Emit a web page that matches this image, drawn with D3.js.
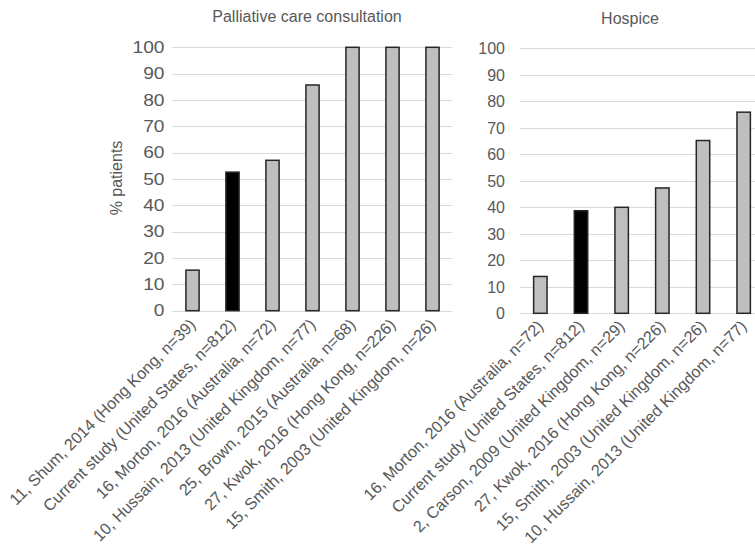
<!DOCTYPE html>
<html>
<head>
<meta charset="utf-8">
<script src="https://cdn.jsdelivr.net/npm/d3@7"></script>
<style>
  html, body { margin: 0; padding: 0; background: #fff; }
  svg { display: block; font-family: "Liberation Sans", Arial, sans-serif; }
</style>
</head>
<body>
<svg id="chart" width="755" height="554"></svg>
<script>
// ---- Data ----
const pcCategories = [
  "11, Shum, 2014 (Hong Kong, n=39)",
  "Current study (United States, n=812)",
  "16, Morton, 2016 (Australia, n=72)",
  "10, Hussain, 2013 (United Kingdom, n=77)",
  "25, Brown, 2015 (Australia, n=68)",
  "27, Kwok, 2016 (Hong Kong, n=226)",
  "15, Smith, 2003 (United Kingdom, n=26)"
];
const pcValues = [15.4, 52.6, 57.1, 85.7, 100, 100, 100];

const hospCategories = [
  "16, Morton, 2016 (Australia, n=72)",
  "Current study (United States, n=812)",
  "2, Carson, 2009 (United Kingdom, n=29)",
  "27, Kwok, 2016 (Hong Kong, n=226)",
  "15, Smith, 2003 (United Kingdom, n=26)",
  "10, Hussain, 2013 (United Kingdom, n=77)"
];
const hospValues = [13.9, 38.7, 40.0, 47.3, 65.2, 75.9];

const yTicks = [0, 10, 20, 30, 40, 50, 60, 70, 80, 90, 100];
const currentStudy = "Current study (United States, n=812)";

const svg = d3.select("#chart");
const textColor = "#595959";

function panel(opts) {
  const g = svg.append("g");
  const x = d3.scaleBand().domain(opts.categories).range([opts.x0, opts.x1]).paddingInner(0.67).paddingOuter(0.335);
  const y = d3.scaleLinear().domain([0, 100]).range([opts.yBottom, opts.yTop]);

  // gridlines
  g.append("g").selectAll("line").data(yTicks).join("line")
    .attr("x1", opts.x0).attr("x2", opts.gridEnd)
    .attr("y1", d => Math.round(y(d)) + 0.5).attr("y2", d => Math.round(y(d)) + 0.5)
    .attr("stroke", "#d9d9d9").attr("stroke-width", 1);

  // y tick labels
  g.append("g").selectAll("text").data(yTicks).join("text")
    .attr("transform", d => `translate(${opts.tickX},${y(d)}) scale(${opts.tickScale},1)`)
    .attr("dy", "0.36em")
    .attr("text-anchor", "end")
    .attr("font-size", 16)
    .attr("fill", textColor)
    .text(d => d);

  // bars
  const data = opts.categories.map((c, i) => ({c, v: opts.values[i]}));
  g.append("g").selectAll("rect").data(data).join("rect")
    .attr("x", d => x(d.c))
    .attr("width", x.bandwidth())
    .attr("y", d => y(d.v))
    .attr("height", d => y(0) - y(d.v))
    .attr("fill", d => d.c === currentStudy ? "#000000" : "#bfbfbf")
    .attr("stroke", "#262626")
    .attr("stroke-width", 1.5);

  // category labels
  g.append("g").selectAll("text").data(opts.categories).join("text")
    .attr("transform", d => `translate(${x(d) + x.bandwidth() / 2 + opts.labDx},${opts.yBottom + opts.labDy}) rotate(-45)`)
    .attr("text-anchor", "end")
    .attr("font-size", 16.2)
    .attr("fill", textColor)
    .text(d => d);

  // title
  g.append("text")
    .attr("x", opts.titleX).attr("y", opts.titleY)
    .attr("text-anchor", "middle")
    .attr("font-size", 16)
    .attr("fill", textColor)
    .text(opts.title);
}

panel({
  categories: pcCategories, values: pcValues,
  x0: 172.5, x1: 452.5, gridEnd: 452, yBottom: 310.7, yTop: 47.3,
  tickX: 164.5, tickScale: 1.2, labDx: 4, labDy: 15,
  title: "Palliative care consultation", titleX: 307, titleY: 22
});

panel({
  categories: hospCategories, values: hospValues,
  x0: 520, x1: 764, gridEnd: 755, yBottom: 313.3, yTop: 48.3,
  tickX: 505, tickScale: 1.0, labDx: 4, labDy: 14,
  title: "Hospice", titleX: 630, titleY: 24
});

// y axis title
svg.append("text")
  .attr("transform", "translate(122,178) rotate(-90)")
  .attr("text-anchor", "middle")
  .attr("font-size", 16)
  .attr("fill", textColor)
  .text("% patients");
</script>
</body>
</html>
